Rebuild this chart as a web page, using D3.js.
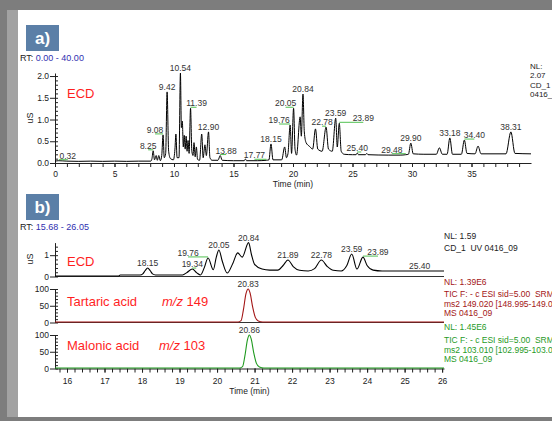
<!DOCTYPE html>
<html>
<head>
<meta charset="utf-8">
<script src="https://cdn.jsdelivr.net/npm/d3@7/dist/d3.min.js"></script>
<style>
body{margin:0;background:#7d7d7d;}
svg{display:block;font-family:"Liberation Sans",Arial,sans-serif;}
</style>
</head>
<body>
<svg id="chart" width="552" height="421"></svg>
<script>
// ---- panel a : full ECD run, [time (min), uS]
var traceA = [[0,0.02],[0.32,0.03],[1,0.02],[2,0.015],[3,0.02],[4,0.015],[5,0.02],[6,0.015],[7,0.02],[8.05,0.02],
  [8.15,0.08],[8.25,0.26],[8.36,0.05],[8.5,0.15],[8.6,0.04],[8.72,0.15],[8.85,0.03],[8.97,0.15],[9.08,0.63],[9.18,0.1],
  [9.3,0.2],[9.42,1.63],[9.55,0.25],[9.7,0.08],[9.95,0.05],[10.08,0.3],[10.16,0.65],[10.26,0.1],[10.42,0.1],[10.54,2.07],
  [10.62,0.8],[10.7,0.95],[10.78,0.35],[10.86,0.62],[10.94,0.3],[11.02,0.6],[11.1,0.25],[11.18,0.5],[11.27,0.2],[11.39,1.25],
  [11.5,0.25],[11.6,0.15],[11.68,0.45],[11.78,0.12],[11.88,0.35],[11.98,0.06],[12.15,0.04],[12.33,0.65],[12.45,0.1],[12.6,0.4],
  [12.72,0.15],[12.9,0.7],[13.02,0.1],[13.2,0.04],[13.7,0.04],[13.88,0.15],[14.05,0.04],[15,0.03],[15.9,0.03],[16,0.07],
  [16.1,0.03],[17,0.03],[17.77,0.04],[17.98,0.05],[18.15,0.42],[18.32,0.05],[19.05,0.05],[19.3,0.35],[19.45,0.1],[19.58,0.2],
  [19.76,0.86],[19.88,0.2],[20.05,1.25],[20.17,0.3],[20.3,0.16],[20.6,1.05],[20.7,0.6],[20.84,1.58],[20.95,0.7],[21.1,0.45],
  [21.4,0.36],[21.65,0.3],[21.89,0.77],[22.08,0.3],[22.45,0.25],[22.78,0.81],[22.98,0.3],[23.3,0.25],[23.59,1.02],[23.72,0.35],
  [23.89,0.9],[24.05,0.25],[24.3,0.18],[25,0.17],[25.3,0.17],[25.4,0.21],[25.5,0.17],[26.1,0.17],[26.2,0.2],[26.3,0.17],
  [28,0.16],[29,0.16],[29.48,0.17],[29.7,0.18],[29.9,0.44],[30.1,0.19],[31,0.18],[32.05,0.18],[32.3,0.33],[32.55,0.18],
  [32.95,0.18],[33.18,0.56],[33.4,0.18],[34.15,0.18],[34.4,0.51],[34.62,0.2],[35.3,0.19],[35.55,0.37],[35.8,0.19],[37.9,0.19],
  [38.31,0.7],[38.65,0.2],[40,0.19]];
// peak labels: [label, apex height]
var peaksA = [["0.32",0.03],["8.25",0.26],["9.08",0.63],["9.42",1.63],["10.54",2.07],["11.39",1.25],["12.90",0.7],
  ["13.88",0.15],["17.77",0.04],["18.15",0.42],["19.76",0.86],["20.05",1.25],["20.84",1.58],["22.78",0.81],["23.59",1.02],
  ["23.89",0.9],["25.40",0.21],["29.48",0.17],["29.90",0.44],["33.18",0.56],["34.40",0.51],["38.31",0.7]];
var xTicksA = [0,5,10,15,20,25,30,35];
var yTicksA = [0,0.5,1,1.5,2];
var infoA = ["NL:","2.07","CD_1","0416_09"];

// ---- panel b : zoom 15.68 - 26.05 min
var traceB = [[15.68,0],[17.38,0],[17.42,0.05],[17.95,0.05],[18.02,0.1],[18.08,0.25],[18.15,0.38],[18.22,0.25],[18.28,0.1],
  [18.36,0.05],[19.08,0.05],[19.2,0.17],[19.34,0.33],[19.46,0.15],[19.56,0.05],[19.66,0.4],[19.76,0.86],[19.9,0.3],[19.98,0.9],
  [20.05,1.24],[20.14,0.7],[20.27,0.14],[20.42,0.6],[20.55,1.1],[20.67,0.9],[20.84,1.59],[20.92,1.0],[21,0.55],[21.2,0.33],
  [21.4,0.28],[21.62,0.28],[21.76,0.5],[21.89,0.76],[22.03,0.45],[22.2,0.27],[22.43,0.24],[22.6,0.35],[22.78,0.76],[22.94,0.45],
  [23.1,0.27],[23.31,0.24],[23.46,0.5],[23.59,1.05],[23.73,0.33],[23.89,0.9],[24,0.5],[24.16,0.28],[24.4,0.24],[26.05,0.24]];
var tartaric = [[15.68,0],[20.56,0],[20.64,4],[20.7,35],[20.77,85],[20.83,100],[20.88,88],[20.95,45],[21.02,14],[21.1,3],[21.22,0],[26.05,0]];
var malonic = [[15.68,0],[20.6,0],[20.68,4],[20.74,35],[20.81,85],[20.86,100],[20.91,88],[20.98,45],[21.05,14],[21.13,3],[21.25,0],[26.05,0]];
var peaksB = [["18.15",0.38],["19.34",0.33],["19.76",0.86],["20.05",1.24],["20.84",1.59],["21.89",0.76],["22.78",0.76],
  ["23.59",1.05],["23.89",0.9],["25.40",0.24]];
var peakTartaric = [["20.83",100]];
var peakMalonic = [["20.86",100]];
var xTicksB = [16,17,18,19,20,21,22,23,24,25,26];
var infoECD = ["NL: 1.59","CD_1  UV 0416_09"];
var infoTartaric = ["NL: 1.39E6","TIC F: - c ESI sid=5.00  SRM ms2 149.020","ms2 149.020 [148.995-149.045]","MS 0416_09"];
var infoMalonic = ["NL: 1.45E6","TIC F: - c ESI sid=5.00  SRM ms2 103.010","ms2 103.010 [102.995-103.025]","MS 0416_09"];

// label nudges (px) and which labels carry the green integration mark
var shiftA = {"0.32":9,"8.25":-5,"9.08":-8,"11.39":6,"13.88":6,"17.77":-12,"19.76":-11,"20.05":-8,"22.78":-4,"23.89":24,"29.48":-14,"34.40":10};
var greenA = ["0.32","8.25","9.08","11.39","13.88","17.77","19.76","20.05","22.78","23.89","25.40","29.48","34.40"];
var shiftB = {"19.76":-20,"23.89":15,"25.40":0};
var greenB = ["19.34","19.76","23.89"];

var RED = "#ff1f1f", DARKRED = "#a31515", GREEN = "#1f9a1f", MARK = "#52c152", TXT = "#222";
var svg = d3.select("#chart");

// frame
svg.append("rect").attr("width",552).attr("height",421).attr("fill","#7d7d7d");
svg.append("rect").attr("x",7).attr("y",10).attr("width",545).attr("height",407).attr("fill","#a2a2a2");
svg.append("rect").attr("x",18).attr("y",10).attr("width",534).attr("height",407).attr("fill","#fff");

function tag(txt, y){
  svg.append("rect").attr("x",26).attr("y",y).attr("width",33).attr("height",26).attr("fill","#5b7fa7");
  svg.append("text").attr("x",42.5).attr("y",y+19).attr("text-anchor","middle").attr("fill","#fff")
    .attr("font-size",17).attr("font-weight","bold").text(txt);
}
function rt(txt, y){
  var t = svg.append("text").attr("x",20).attr("y",y).attr("font-size",9).attr("fill",TXT);
  t.append("tspan").text("RT: ");
  t.append("tspan").attr("fill","#2f2fb0").text(txt);
}
function styleAxis(g){
  g.selectAll("path,line").attr("stroke","#222").attr("stroke-width",1);
  g.selectAll("text").attr("fill",TXT).attr("font-size",8.5).attr("font-family","Liberation Sans, Arial, sans-serif");
}
function yAxis(y, major, minorStep, fmt, x0){
  var dom = y.domain();
  var g = svg.append("g").attr("transform","translate("+x0+",0)")
    .call(d3.axisLeft(y).tickValues(major).tickFormat(fmt).tickSize(5).tickSizeOuter(0).tickPadding(1));
  styleAxis(g);
  var m = svg.append("g").attr("transform","translate("+x0+",0)")
    .call(d3.axisRight(y).tickValues(d3.range(dom[0], dom[1]+1e-9, minorStep)).tickFormat("").tickSize(3));
  m.select(".domain").remove();
  styleAxis(m);
}
function peakLabels(list, x, y, shift, greens){
  list.forEach(function(p){
    var t = +p[0], px = x(t), py = y(p[1]);
    var dx = shift[p[0]] || 0;
    var lx = px + dx, ly = py - 2;
    if(greens.indexOf(p[0]) >= 0){
      var ex = dx === 0 ? px + 4 : lx;
      svg.append("line").attr("x1",px).attr("y1",py-1).attr("x2",ex).attr("y2",ly+1)
        .attr("stroke",MARK).attr("stroke-width",1);
    }
    svg.append("text").attr("x",lx).attr("y",ly).attr("text-anchor","middle")
      .attr("font-size",8.5).attr("fill","#333").text(p[0]);
  });
}
function lines(list, x, y0, step, color, size){
  list.forEach(function(s,i){
    svg.append("text").attr("x",x).attr("y",y0+i*step).attr("font-size",size).attr("fill",color)
      .style("white-space","pre").text(s);
  });
}

// ================= panel a =================
tag("a)", 25);
rt("0.00 - 40.00", 61);
var xA = d3.scaleLinear().domain([0,40]).range([55,531]);
var yA = d3.scaleLinear().domain([0,2.07]).range([162,73]);

var gxA = svg.append("g").attr("transform","translate(0,163)")
  .call(d3.axisBottom(xA).tickValues(xTicksA).tickSize(4).tickSizeOuter(0).tickPadding(4));
styleAxis(gxA);
var mxA = svg.append("g").attr("transform","translate(0,163)")
  .call(d3.axisBottom(xA).tickValues(d3.range(0,40,1)).tickFormat("").tickSize(4));
mxA.select(".domain").remove(); styleAxis(mxA);
yAxis(d3.scaleLinear().domain([0,2.07]).range([163,73]), yTicksA, 0.1, d3.format(".1f"), 55);

svg.append("path").datum(traceA).attr("fill","none").attr("stroke","#000").attr("stroke-width",1)
  .attr("d", d3.line().x(function(d){return xA(d[0]);}).y(function(d){return yA(d[1]);}).curve(d3.curveMonotoneX));
peakLabels(peaksA, xA, yA, shiftA, greenA);

svg.append("text").attr("x",293).attr("y",187).attr("text-anchor","middle").attr("font-size",8.5).attr("fill",TXT).text("Time (min)");
svg.append("text").attr("transform","translate(33,118) rotate(-90)").attr("text-anchor","middle").attr("font-size",9).attr("fill",TXT).text("uS");
svg.append("text").attr("x",67).attr("y",98).attr("font-size",13).attr("fill",RED).text("ECD");
lines(infoA, 530, 69, 9.3, TXT, 8);

// ================= panel b =================
tag("b)", 194);
rt("15.68 - 26.05", 230);
var xB = d3.scaleLinear().domain([15.68,26.05]).range([55,444]);
var yE = d3.scaleLinear().domain([0,1.59]).range([276,242.6]);
var yT = d3.scaleLinear().domain([0,100]).range([322,289]);
var yM = d3.scaleLinear().domain([0,100]).range([368,335]);

// sub-plot base lines
[[yE,"#333"],[yT,"#333"]].forEach(function(a){
  svg.append("line").attr("x1",xB.range()[0]).attr("x2",xB.range()[1]).attr("y1",a[0](0)+0.5).attr("y2",a[0](0)+0.5)
    .attr("stroke",a[1]).attr("stroke-width",1);
});
var gxB = svg.append("g").attr("transform","translate(0,368.5)")
  .call(d3.axisBottom(xB).tickValues(xTicksB).tickSize(4).tickSizeOuter(0).tickPadding(5));
styleAxis(gxB);
var mxB = svg.append("g").attr("transform","translate(0,368.5)")
  .call(d3.axisBottom(xB).tickValues(d3.range(15.8,26.01,0.2)).tickFormat("").tickSize(4));
mxB.select(".domain").remove(); styleAxis(mxB);

yAxis(yE.copy().range([276.5,242.6]), [0,1], 0.2, d3.format("d"), 55);
yAxis(yT.copy().range([322.5,289]), [0,50,100], 10, d3.format("d"), 55);
yAxis(yM.copy().range([368.5,335]), [0,50,100], 10, d3.format("d"), 55);

function trace(data, y, color){
  svg.append("path").datum(data).attr("fill","none").attr("stroke",color).attr("stroke-width",1.1)
    .attr("d", d3.line().x(function(d){return xB(d[0]);}).y(function(d){return y(d[1]);}).curve(d3.curveMonotoneX));
}
trace(traceB, yE, "#000");
trace(tartaric, yT, DARKRED);
trace(malonic, yM, GREEN);
peakLabels(peaksB, xB, yE, shiftB, greenB);
peakLabels(peakTartaric, xB, yT, {}, []);
peakLabels(peakMalonic, xB, yM, {}, []);

svg.append("text").attr("x",249.5).attr("y",394).attr("text-anchor","middle").attr("font-size",8.5).attr("fill",TXT).text("Time (min)");
svg.append("text").attr("transform","translate(33,259) rotate(-90)").attr("text-anchor","middle").attr("font-size",9).attr("fill",TXT).text("uS");

svg.append("text").attr("x",67).attr("y",266).attr("font-size",13).attr("fill",RED).text("ECD");
var tt = svg.append("text").attr("x",67).attr("y",306).attr("font-size",13).attr("fill",RED);
tt.append("tspan").text("Tartaric acid");
tt.append("tspan").attr("x",162).attr("font-style","italic").text("m/z");
tt.append("tspan").text(" 149");
var tm = svg.append("text").attr("x",67).attr("y",350).attr("font-size",13).attr("fill",RED);
tm.append("tspan").text("Malonic acid");
tm.append("tspan").attr("x",159).attr("font-style","italic").text("m/z");
tm.append("tspan").text(" 103");

lines(infoECD, 444, 239, 12, TXT, 8.5);
lines(infoTartaric.filter(function(s,i){return i!==1;}).slice(0,1), 444, 285, 12, DARKRED, 8.5);
lines(["TIC F: - c ESI sid=5.00  SRM", infoTartaric[2], infoTartaric[3]], 444, 297, 9.5, DARKRED, 8.5);
lines([infoMalonic[0]], 444, 330, 12, GREEN, 8.5);
lines(["TIC F: - c ESI sid=5.00  SRM", infoMalonic[2], infoMalonic[3]], 444, 343, 9.5, GREEN, 8.5);
</script>
</body>
</html>
